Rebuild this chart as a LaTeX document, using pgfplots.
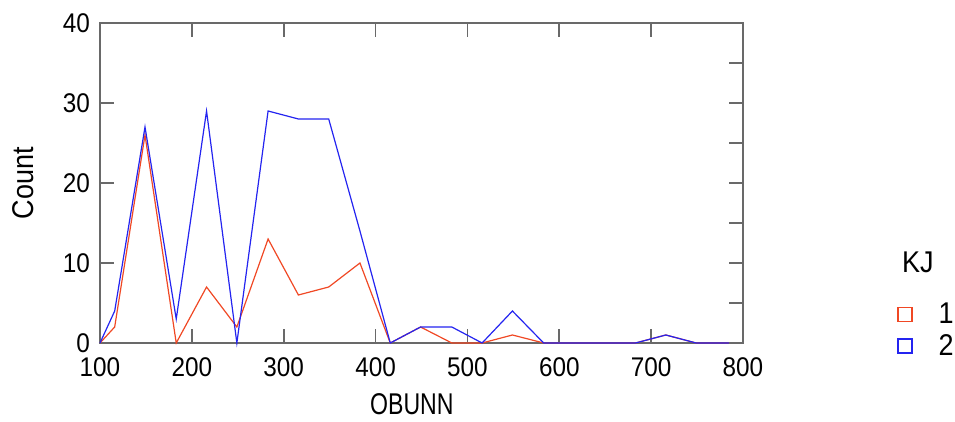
\documentclass[border=0pt]{standalone}
\usepackage{pgfplots}
\pgfplotsset{compat=1.18}
\usepackage{fontspec}
\setmainfont{Liberation Sans}
\newfontfamily\condfont{Liberation Sans}[FakeStretch=0.9]
\definecolor{cred}{RGB}{240,72,36}
\definecolor{cblue}{RGB}{36,36,240}
\definecolor{framec}{RGB}{105,105,105}
\begin{document}
\begin{tikzpicture}
\useasboundingbox (-50pt,-39.5pt) rectangle (427.5pt,171.5pt);
\begin{axis}[
  scale only axis, width=321.5pt, height=160pt,
  xmin=100, xmax=800, ymin=0, ymax=40,
  xtick={100,200,...,800}, ytick={0,10,...,40},
  ytick pos=left,
  tick align=inside,
  major tick length=7pt,
  axis line style={framec, line width=0.8pt},
  every tick/.style={framec, line width=0.8pt},
  /pgf/number format/assume math mode=true,
  ticklabel style={font=\condfont\fontsize{13.5}{16}\selectfont},
  yticklabel style={xshift=-1.5pt},
  xticklabel style={yshift=-4pt},
  xlabel={\scalebox{0.77}[1]{\fontsize{15}{18}\selectfont OBUNN}},
  ylabel={\condfont\fontsize{15}{18}\selectfont Count},
  xlabel style={at={(axis description cs:0.485,-0.19)}, anchor=center},
  ylabel style={at={(axis description cs:-0.1198,0.5)}, anchor=center},
  legend image code/.code={\draw[line width=0.6pt] (0pt,-3.5pt) rectangle (7pt,3.5pt);},
  legend style={at={(1.2395,0.128)}, anchor=north west, draw=none, fill=none,
    font=\condfont\fontsize{15}{18}\selectfont, row sep=4pt, inner sep=0pt,
    nodes={inner sep=0pt}},
  legend cell align=left,
  legend style={/tikz/every even column/.append style={column sep=0pt}},
  clip=false,
]
\addplot[cred, line width=0.6pt] coordinates {
(100,0) (116,2) (149,26) (183,0) (216,7) (249,2) (283,13) (316,6) (349,7) (383,10)
(416,0) (449,2) (483,0) (516,0) (549,1) (583,0) (616,0) (649,0) (683,0) (716,1)
(749,0) (783,0) (800,0)};
\addlegendentry{\hspace{13pt}1}
\addplot[cblue, line width=0.6pt] coordinates {
(100,0) (116,4) (149,27) (183,3) (216,29) (249,0) (283,29) (316,28) (349,28) (383,14)
(416,0) (449,2) (483,2) (516,0) (549,4) (583,0) (616,0) (649,0) (683,0) (716,1)
(749,0) (783,0) (800,0)};
\addlegendentry{\hspace{13pt}2}
\node[font=\condfont\fontsize{15}{18}\selectfont, anchor=center] at (rel axis cs:1.272,0.253) {KJ};
\end{axis}
\begin{axis}[
  scale only axis, width=321.5pt, height=160pt,
  xmin=100, xmax=800, ymin=0, ymax=40,
  axis y line*=right, hide x axis,
  ytick={0,5,...,40}, yticklabels={},
  tick align=inside, major tick length=7pt,
  axis line style={framec, line width=0.8pt},
  every tick/.style={framec, line width=0.8pt},
]
\end{axis}
\end{tikzpicture}
\end{document}
